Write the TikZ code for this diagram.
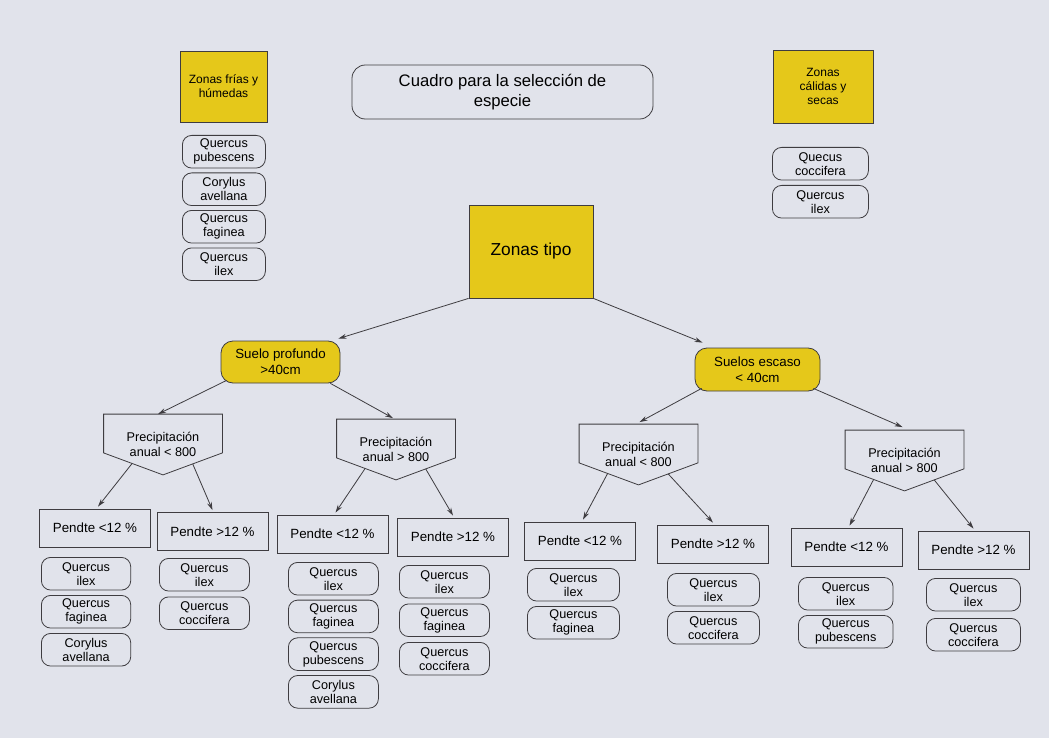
\documentclass[tikz,border=0pt]{standalone}
\usepackage{fontspec}
\setmainfont{Liberation Sans}
\usetikzlibrary{positioning,calc,arrows.meta}

\begin{document}
\begin{tikzpicture}[x=0.75pt,y=-0.75pt]
  \definecolor{papel}{RGB}{225,227,235}
  \definecolor{amarillo}{RGB}{229,200,26}
  \definecolor{tinta}{RGB}{62,60,64}
  \tikzset{
    caja/.style={draw=tinta, line width=0.6pt, align=center, inner sep=1.5pt},
    zona/.style={caja, fill=amarillo},
    suelo/.style={zona, rounded corners=9pt, font=\fontsize{10}{12}\selectfont},
    precip/.style={caja, draw=none, minimum width=88.5pt, minimum height=45pt, font=\fontsize{9.5}{11.5}\selectfont},
    pendte/.style={caja, minimum width=83.25pt, minimum height=28.5pt, font=\fontsize{10}{12}\selectfont},
    especie/.style={caja, rounded corners=7pt, minimum height=24.5pt, font=\fontsize{9.5}{10.5}\selectfont},
    flecha/.style={draw=tinta, line width=0.6pt, -{Stealth[length=6pt,width=3.6pt]}}
  }
  \fill[papel] (0,0) rectangle (1049,738);
  \useasboundingbox (0,0) rectangle (1049,738);

  % cabecera
  \node[zona, minimum width=65.25pt, minimum height=53.25pt, font=\fontsize{9}{10.5}\selectfont] (frias) at (223.5,86.5) {Zonas frías y\\húmedas};
  \node[caja, rounded corners=10pt, minimum width=225.75pt, minimum height=40.5pt, font=\fontsize{12.5}{15}\selectfont] (titulo) at (502.5,92) {Cuadro para la selección de\\especie};
  \node[zona, minimum width=75pt, minimum height=54.75pt, font=\fontsize{9}{10.5}\selectfont] (calidas) at (823,86.5) {Zonas\\cálidas y\\secas};
  \node[zona, minimum width=93pt, minimum height=69.75pt, font=\fontsize{13}{15}\selectfont] (tipo) at (531,251.5) {Zonas tipo};

  % suelos
  \node[suelo, minimum width=89.25pt, minimum height=31.5pt] (sp) at (280.5,362) {Suelo profundo\\>40cm};
  \node[suelo, minimum width=93.75pt, minimum height=32.25pt] (se) at (757.5,369.5) {Suelos escaso\\< 40cm};
  \draw[flecha] (tipo.south west) -- ($(sp.north east)+(-2,-2)$);
  \draw[flecha] (tipo.south east) -- ($(se.north west)+(8,-5)$);

  % precipitacion
  \node[precip] (p1) at (163,444.5) {Precipitación\\anual < 800};
  \node[precip] (p2) at (396,449.5) {Precipitación\\anual > 800};
  \node[precip] (p3) at (638.5,454.5) {Precipitación\\anual < 800};
  \node[precip] (p4) at (904.5,460.5) {Precipitación\\anual > 800};
  \draw[flecha] ($(sp.south west)+(6,-3)$) -- ($(p1.north)+(-5,0)$);
  \draw[flecha] ($(sp.south east)+(-10,0)$) -- ($(p2.north)+(-3,-1)$);
  \draw[flecha] ($(se.south west)+(7,-3)$) -- ($(p3.north)+(1,-2)$);
  \draw[flecha] ($(se.south east)+(-7,-3)$) -- ($(p4.north)+(-2,-3)$);

  % pendientes
  \foreach \n/\xx/\yy/\txt in {l1/95/528/{Pendte <12 \%}, l2/212.5/531.5/{Pendte >12 \%},
      l3/332.5/534/{Pendte <12 \%}, l4/453/537/{Pendte >12 \%},
      l5/580/541/{Pendte <12 \%}, l6/713/544/{Pendte >12 \%},
      l7/846.5/547/{Pendte <12 \%}, l8/973.5/550/{Pendte >12 \%}}
    \node[pendte] (\n) at (\xx,\yy) {\txt};

  \foreach \p/\a/\b in {p1/l1/l2, p2/l3/l4, p3/l5/l6, p4/l7/l8} {
    \coordinate (\p-bl) at ($(\p.south west)+(0,-22)$);
    \coordinate (\p-br) at ($(\p.south east)+(0,-22)$);
    \draw[tinta, line width=0.6pt] (\p.north west) -- (\p.north east) -- (\p-br) -- (\p.south) -- (\p-bl) -- cycle;
    \draw[flecha] ($(\p.south)!0.52!(\p-bl)$) -- ($(\a.north)+(3,-2)$);
    \draw[flecha] ($(\p.south)!0.5!(\p-br)$) -- ($(\b.north)+(0,-2)$);
  }

  % especies
  \foreach \col/\xx/\yy/\ww/\st/\lista in {
      tl/182/135/62.25/37.5/{Quercus\\pubescens,Corylus\\avellana,Quercus\\faginea,Quercus\\ilex},
      tr/772/147/72/38/{Quecus\\coccifera,Quercus\\ilex},
      c1/41/557/67/38/{Quercus\\ilex,Quercus\\faginea,Corylus\\avellana},
      c2/159/558/67.5/38.5/{Quercus\\ilex,Quercus\\coccifera},
      c3/288/562/67.5/37.7/{Quercus\\ilex,Quercus\\faginea,Quercus\\pubescens,Corylus\\avellana},
      c4/399/565/67.5/38.5/{Quercus\\ilex,Quercus\\faginea,Quercus\\coccifera},
      c5/527/568/69/38/{Quercus\\ilex,Quercus\\faginea},
      c6/667/573/69/38/{Quercus\\ilex,Quercus\\coccifera},
      c7/798/577/71/38/{Quercus\\ilex,Quercus\\pubescens},
      c8/926/578/70.5/40/{Quercus\\ilex,Quercus\\coccifera}}
    \foreach \sp [count=\k] in \lista
      \node[especie, minimum width=\ww pt, anchor=north west] (\col-\k) at (\xx,{\yy+\st*(\k-1)}) {\sp};
\end{tikzpicture}
\end{document}
